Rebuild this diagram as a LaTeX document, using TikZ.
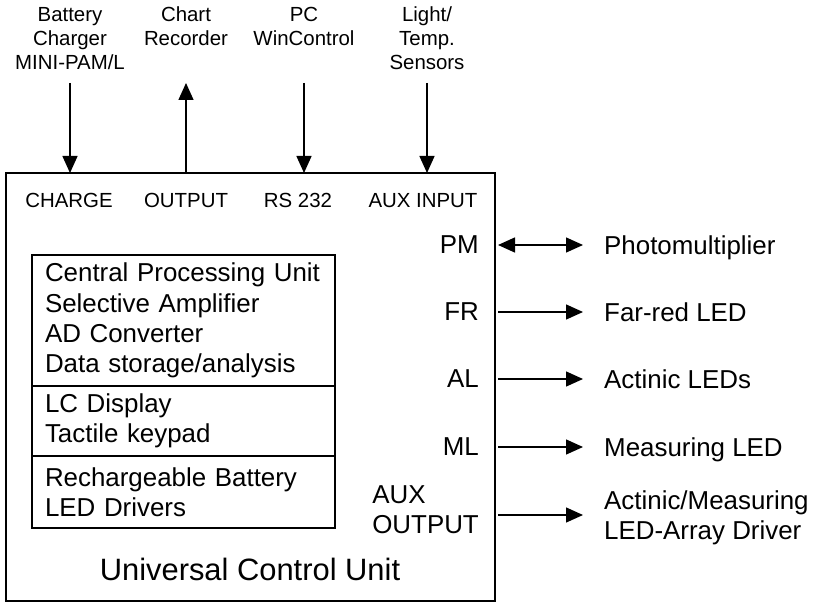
\documentclass[tikz,border=0pt]{standalone}
\usepackage{fontspec}
\setmainfont{Liberation Sans}
\usetikzlibrary{arrows.meta, positioning}
\tikzset{
  unitbox/.style={draw=black, line width=1.8bp, minimum width=489bp,
                  minimum height=428bp, inner sep=0pt, outer sep=0pt},
  partbox/.style={draw=black, line width=1.3bp, text width=277bp, inner xsep=13bp,
                  inner ysep=0pt, outer sep=0pt, align=left,
                  font=\fontsize{26}{30.5}\selectfont},
  lbl/.style={font=\fontsize{26}{30}\selectfont, inner sep=0pt, text depth=0pt},
  smalllbl/.style={font=\fontsize{20.5}{24}\selectfont, inner sep=0pt,
                   align=center, text depth=0pt},
  titlelbl/.style={font=\fontsize{31}{36}\selectfont, inner sep=0pt, text depth=0pt},
  flow/.style={-{Triangle[length=17bp, width=15bp]}, line width=1.4bp},
  twoway/.style={{Triangle[length=17bp, width=15bp]}-{Triangle[length=17bp, width=15bp]},
                 line width=1.4bp},
}

\begin{document}
\begin{tikzpicture}[x=1bp, y=-1bp]
  \useasboundingbox (0,0) rectangle (818,602);
  \node[unitbox, anchor=north west] (ucu) at (6,173) {};
  \coordinate (feed) at (0,83);

  \node[smalllbl, anchor=north] (charger) at (70,7) {Battery\\ Charger\\ MINI-PAM/L};
  \node[smalllbl, anchor=north] (recorder) at (186,7) {Chart\\ Recorder};
  \node[smalllbl, anchor=north] (pc) at (304,7) {PC\\ WinControl};
  \node[smalllbl, anchor=north] (sensors) at (427,7) {Light/\\ Temp.\\ Sensors};

  \node[smalllbl] (charge) at (69,200) {CHARGE};
  \node[smalllbl] (output) at (186,200) {OUTPUT};
  \node[smalllbl] (rs) at (298,200) {RS 232};
  \node[smalllbl] (auxin) at (423,200) {AUX INPUT};

  \node[partbox, anchor=north west, minimum height=131bp] (cpu) at (32,255)
    {Central Processing Unit\\ Selective Amplifier\\ AD Converter\\ Data storage/analysis};
  \node[partbox, below=0pt of cpu, minimum height=70bp] (lcd) {LC Display\\ Tactile keypad};
  \node[partbox, below=0pt of lcd, minimum height=72bp] (bat) {Rechargeable Battery\\ LED Drivers};

  \node[titlelbl] (title) at (250,569) {Universal Control Unit};

  \node[lbl, anchor=east] (pm) at (479,245) {PM};
  \node[lbl, anchor=east] (fr) at (479,312) {FR};
  \node[lbl, anchor=east] (al) at (479,379) {AL};
  \node[lbl, anchor=east] (ml) at (479,447) {ML};
  \node[lbl, anchor=east, align=left] (auxout) at (479,510) {AUX\\ OUTPUT};

  \node[lbl, anchor=west] (photo) at (604,245) {Photomultiplier};
  \node[lbl, anchor=west] (farred) at (604,312) {Far-red LED};
  \node[lbl, anchor=west] (actinic) at (604,379) {Actinic LEDs};
  \node[lbl, anchor=west] (meas) at (604,447) {Measuring LED};
  \node[lbl, anchor=west, align=left] (drv) at (604,515) {Actinic/Measuring\\ LED-Array Driver};

  \draw[flow] (charger |- feed) -- (charger |- ucu.north);
  \draw[flow] (recorder |- ucu.north) -- (recorder |- feed);
  \draw[flow] (pc |- feed) -- (pc |- ucu.north);
  \draw[flow] (sensors |- feed) -- (sensors |- ucu.north);

  \draw[twoway, shorten <=3bp, shorten >=21bp] (ucu.east |- photo) -- (photo.west);
  \draw[flow, shorten <=3bp, shorten >=21bp] (ucu.east |- farred) -- (farred.west);
  \draw[flow, shorten <=3bp, shorten >=21bp] (ucu.east |- actinic) -- (actinic.west);
  \draw[flow, shorten <=3bp, shorten >=21bp] (ucu.east |- meas) -- (meas.west);
  \draw[flow, shorten <=3bp, shorten >=21bp] (ucu.east |- drv) -- (drv.west);
\end{tikzpicture}
\end{document}
